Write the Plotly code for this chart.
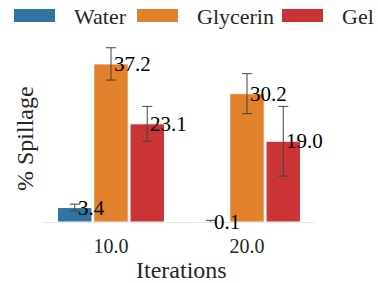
import plotly.graph_objects as go

categories = ["10.0", "20.0"]
series_names = ["Water", "Glycerin", "Gel"]
water = [3.4, 0.1]
glycerin = [37.2, 30.2]
gel = [23.1, 19.0]
water_err = [0.8, 0.3]
glycerin_err = [3.8, 4.7]
gel_err = [4.1, 8.2]
colors = ["#3274a1", "#e1812c", "#cb3437"]

values = [water, glycerin, gel]
errors = [water_err, glycerin_err, gel_err]

FONT = "Liberation Serif"
TXT = "#262626"

W, H = 378, 283
ml, mr, mt, mb = 43, 63, 40, 61
plot_w = W - ml - mr
plot_h = H - mt - mb
bargap = 0.2
slot_px = plot_w / len(categories) * (1 - bargap) / len(series_names)


def px_x(px):
    return (px - ml) / plot_w


def px_y(py):
    return (H - mb - py) / plot_h


fig = go.Figure()
for i, (name, vals, errs, col) in enumerate(zip(series_names, values, errors, colors)):
    fig.add_trace(go.Bar(
        x=categories, y=vals, name=name,
        marker=dict(color=col, line=dict(color="white", width=1)),
        error_y=dict(type="data", array=errs, color="#444444", thickness=1, width=5),
        showlegend=False,
    ))
    for j, v in enumerate(vals):
        fig.add_annotation(
            x=j, y=v, xref="x", yref="y", text=f"{v:.1f}",
            showarrow=False, xanchor="left", yanchor="middle",
            xshift=(i - 1) * slot_px + 1,
            font=dict(family=FONT, size=21, color="black"),
        )

# custom legend
leg_x = [14, 137, 282]
for i, (name, col) in enumerate(zip(series_names, colors)):
    fig.add_shape(type="rect", xref="paper", yref="paper",
                  x0=px_x(leg_x[i]), x1=px_x(leg_x[i] + 41),
                  y0=px_y(22), y1=px_y(9),
                  fillcolor=col, line=dict(width=0))
    fig.add_annotation(
        xref="paper", yref="paper",
        x=px_x(leg_x[i] + 58), y=px_y(16),
        text=name, showarrow=False, xanchor="left", yanchor="middle",
        font=dict(family=FONT, size=22, color=TXT),
    )

# axis titles
fig.add_annotation(xref="paper", yref="paper", x=px_x(25), y=px_y(139),
                   text="% Spillage", textangle=-90, showarrow=False,
                   xanchor="center", yanchor="middle",
                   font=dict(family=FONT, size=24, color=TXT))
fig.add_annotation(xref="paper", yref="paper", x=px_x(181), y=px_y(270),
                   text="Iterations", showarrow=False,
                   xanchor="center", yanchor="middle",
                   font=dict(family=FONT, size=24, color=TXT))

fig.update_layout(
    width=W, height=H,
    margin=dict(l=ml, r=mr, t=mt, b=mb),
    barmode="group", bargap=bargap, bargroupgap=0.05,
    plot_bgcolor="white", paper_bgcolor="white",
    font=dict(family=FONT, color=TXT),
)
fig.update_xaxes(
    type="category", range=[-0.5, 1.5],
    showline=True, linecolor="#e6e6e6", linewidth=1,
    showgrid=False, zeroline=False,
    ticks="outside", ticklen=6, tickcolor="rgba(0,0,0,0)",
    tickfont=dict(family=FONT, size=20, color=TXT),
)
fig.update_yaxes(
    range=[0, plot_h / 4.25],
    showticklabels=False, showgrid=False, zeroline=False, showline=False,
)

fig.write_html("out.html", config={"displayModeBar": False},
               post_script="document.body.style.margin='0';")
